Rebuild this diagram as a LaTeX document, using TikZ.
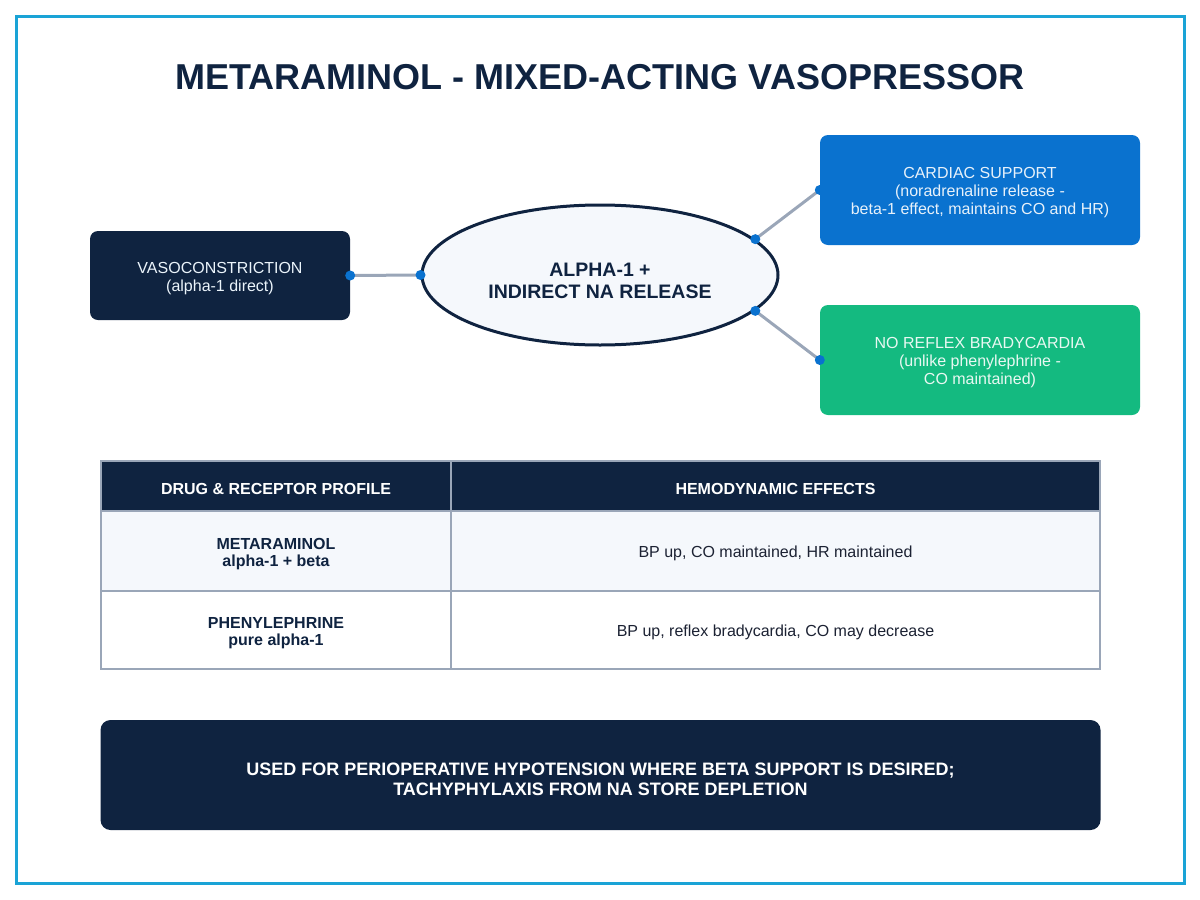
\documentclass[tikz,border=0pt]{standalone}
\usepackage{fontspec}
\setmainfont{Liberation Sans}
\usetikzlibrary{shapes.geometric}

\definecolor{medNavy}{HTML}{0F2340}
\definecolor{medBlue}{HTML}{0A72CF}
\definecolor{medGreen}{HTML}{14BA80}
\definecolor{medFrame}{HTML}{1AA3D6}
\definecolor{medGray}{HTML}{9AA6B8}
\definecolor{medPale}{HTML}{F5F8FC}
\definecolor{medText}{HTML}{1C2233}

% pushes a node's text a little lower
\newcommand{\lowerby}[1]{\rule{0pt}{#1}}

\begin{document}
\begin{tikzpicture}[x=1pt,y=-1pt,
  box/.style={rounded corners=8pt,minimum width=260pt,align=center,inner sep=0pt,
    font=\fontsize{16}{18}\selectfont},
  link/.style={medGray,line width=3pt},
  dot/.style={circle,fill=medBlue,inner sep=0pt,minimum size=10pt},
  cell/.style={draw=medGray,line width=1.5pt,inner sep=0pt,align=center,
    font=\fontsize{16}{17}\selectfont}]
  \useasboundingbox (0,0) rectangle (1200,900);
  \draw[medFrame,line width=3pt] (16.5,16.5) rectangle (1184.5,883.5);

  \node[font=\bfseries\fontsize{36}{40}\selectfont,text=medNavy] (title) at (600,77) {METARAMINOL - MIXED-ACTING VASOPRESSOR};

  % mechanism
  \node[ellipse,draw=medNavy,line width=3pt,fill=medPale,minimum width=356pt,minimum height=140pt,
    align=center,text=medNavy,font=\bfseries\fontsize{19.5}{22}\selectfont] (mech) at (600,275) {\lowerby{1.25em}ALPHA-1 +\\INDIRECT NA RELEASE};
  \node[box,fill=medNavy,text=white!92!medBlue,minimum width=260pt,minimum height=89pt] (vaso) at (220,275.5) {\lowerby{1.1em}VASOCONSTRICTION\\(alpha-1 direct)};
  \node[box,fill=medBlue,text=white!90!medBlue,minimum width=320pt,minimum height=110pt] (cardiac) at (980,190) {\lowerby{1.0em}CARDIAC SUPPORT\\(noradrenaline release -\\beta-1 effect, maintains CO and HR)};
  \node[box,fill=medGreen,text=white!90!medGreen,minimum width=320pt,minimum height=110pt] (brady) at (980,360) {\lowerby{1.0em}NO REFLEX BRADYCARDIA\\(unlike phenylephrine -\\CO maintained)};

  \draw[link] (vaso.east) -- (mech.west);
  \draw[link] (mech.13) -- (cardiac.west);
  \draw[link] (mech.-13) -- (brady.west);
  \foreach \p in {vaso.east,mech.west,mech.13,cardiac.west,mech.-13,brady.west}
    \node[dot] at (\p) {};

  % comparison table
  \node[cell,fill=medNavy,text=white,font=\bfseries\fontsize{16}{17}\selectfont,minimum width=350pt,minimum height=50pt] (h1) at (276,486) {\lowerby{1.05em}DRUG \& RECEPTOR PROFILE};
  \node[cell,fill=medNavy,text=white,font=\bfseries\fontsize{16}{17}\selectfont,minimum width=649pt,minimum height=50pt] (h2) at (775.5,486) {\lowerby{1.05em}HEMODYNAMIC EFFECTS};
  \node[cell,fill=medPale,text=medNavy,font=\bfseries\fontsize{16}{17}\selectfont,minimum width=350pt,minimum height=80pt] (r1a) at (276,551) {\lowerby{1.1em}METARAMINOL\\alpha-1 + beta};
  \node[cell,fill=medPale,text=medText,minimum width=649pt,minimum height=80pt] (r1b) at (775.5,551) {\lowerby{1.05em}BP up, CO maintained, HR maintained};
  \node[cell,fill=white,text=medNavy,font=\bfseries\fontsize{16}{17}\selectfont,minimum width=350pt,minimum height=78pt] (r2a) at (276,630) {\lowerby{1.1em}PHENYLEPHRINE\\pure alpha-1};
  \node[cell,fill=white,text=medText,minimum width=649pt,minimum height=78pt] (r2b) at (775.5,630) {\lowerby{1.05em}BP up, reflex bradycardia, CO may decrease};

  % clinical note
  \node[box,fill=medNavy,text=white,rounded corners=10pt,minimum width=1000pt,minimum height=110pt,
    font=\bfseries\fontsize{18}{20}\selectfont] (note) at (600.5,775) {\lowerby{1.2em}USED FOR PERIOPERATIVE HYPOTENSION WHERE BETA SUPPORT IS DESIRED;\\TACHYPHYLAXIS FROM NA STORE DEPLETION};
\end{tikzpicture}
\end{document}
